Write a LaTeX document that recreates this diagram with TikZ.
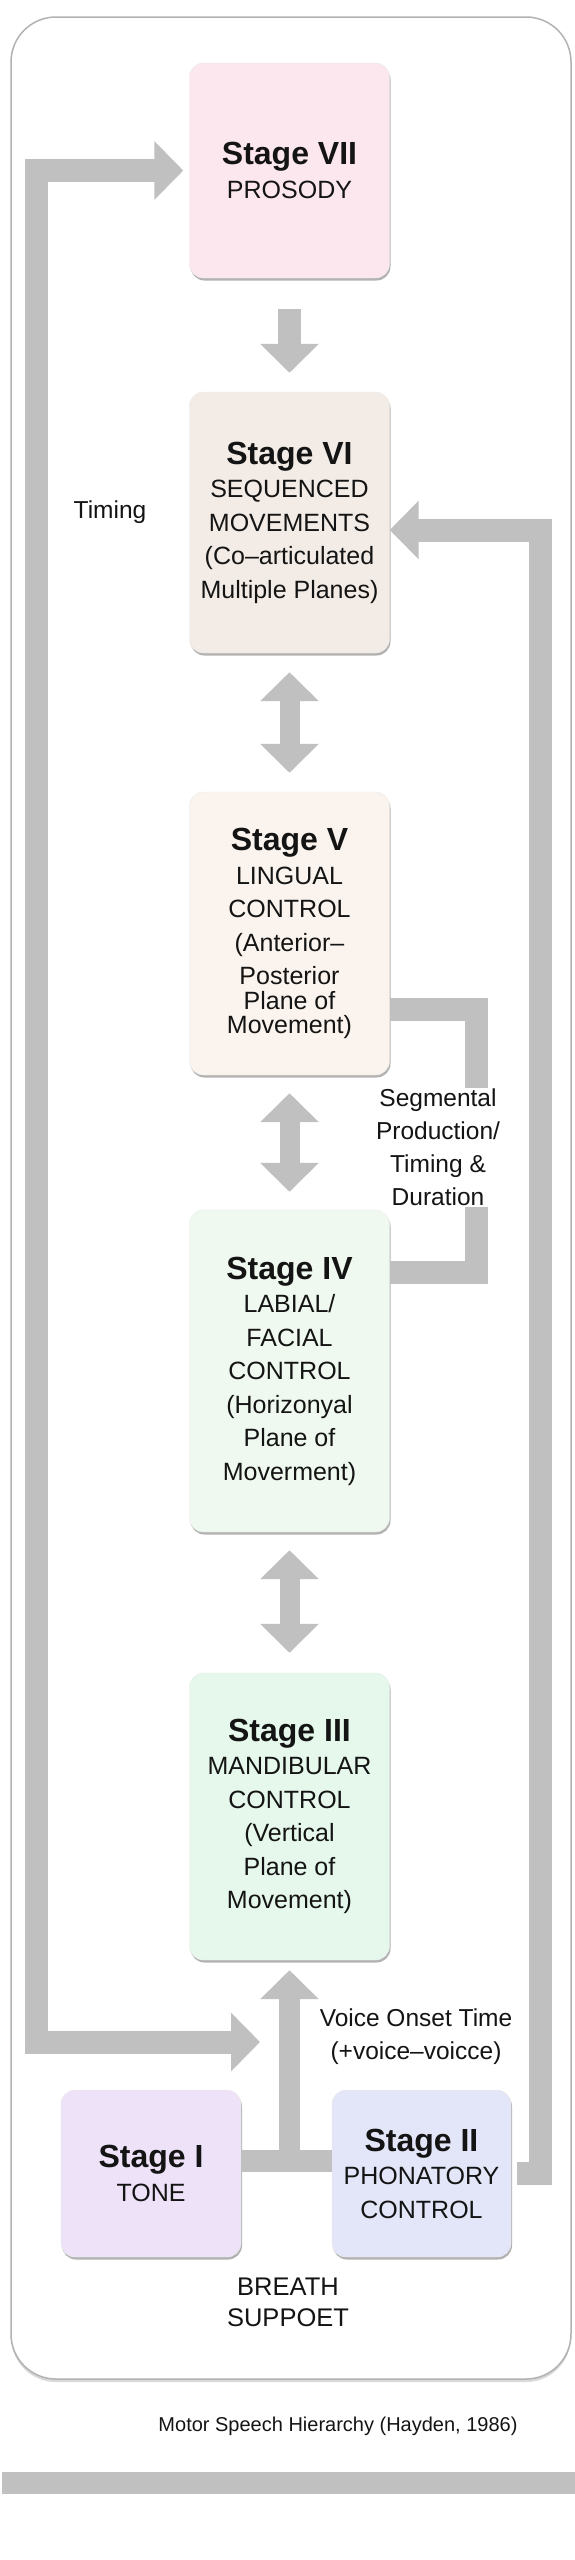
\documentclass[tikz,border=0pt]{standalone}
\usepackage{fontspec}
\setmainfont{Liberation Sans}
\definecolor{arrowGray}{RGB}{192,192,192}
\definecolor{frameGray}{RGB}{178,178,178}
\definecolor{prosodyPink}{RGB}{252,231,238}
\definecolor{sequenceSand}{RGB}{243,236,230}
\definecolor{lingualCream}{RGB}{251,244,238}
\definecolor{labialGreen}{RGB}{239,249,239}
\definecolor{mandibleMint}{RGB}{229,248,235}
\definecolor{toneLilac}{RGB}{237,226,247}
\definecolor{phonoBlue}{RGB}{227,230,248}
\usetikzlibrary{arrows.meta,shadows}
\newcommand{\stagetitle}[1]{{\bfseries\fontsize{32}{33.5}\selectfont #1}}

\begin{document}
\begin{tikzpicture}[x=1pt,y=-1pt,>={Triangle[length=29pt,width=57pt]},
  stagebox/.style={rectangle,rounded corners=14pt,draw=black!8,minimum width=200pt,align=center,
    text=black!92,font=\fontsize{25}{33.5}\selectfont,
    drop shadow={shadow xshift=1pt,shadow yshift=-2.5pt,opacity=0.55,fill=black!55}},
  flowarrow/.style={draw=arrowGray,line width=23pt,->},
  twoway/.style={draw=arrowGray,line width=20pt,<->},
  loopbar/.style={draw=arrowGray,line width=23pt},
  sidelabel/.style={font=\fontsize{24.5}{33}\selectfont,align=center,text=black!92}]
\useasboundingbox (0,0) rectangle (575,2560);

\node[draw=frameGray,line width=1.5pt,fill=white,rounded corners=45pt,minimum width=560pt,minimum height=2362pt,
  drop shadow={shadow xshift=0pt,shadow yshift=-3pt,opacity=0.25,fill=black!60}] (frame) at (291,1198) {};

\node[stagebox,fill=prosodyPink,minimum height=215pt] (vii) at (289.5,170.5) {\stagetitle{Stage VII}\\PROSODY};
\node[stagebox,fill=sequenceSand,minimum height=261pt] (vi) at (289.5,522.5) {\stagetitle{Stage VI}\\SEQUENCED\\MOVEMENTS\\(Co–articulated\\Multiple Planes)};
\node[stagebox,fill=lingualCream,minimum height=283pt] (v) at (289.5,933.5) {\stagetitle{Stage V}\\LINGUAL\\CONTROL\\(Anterior–\\Posterior\\[-9pt]Plane of\\[-9pt]Movement)};
\node[stagebox,fill=labialGreen,minimum height=322pt] (iv) at (289.5,1371) {\stagetitle{Stage IV}\\LABIAL/\\FACIAL\\CONTROL\\(Horizonyal\\Plane of\\Moverment)};
\node[stagebox,fill=mandibleMint,minimum height=287pt] (iii) at (289.5,1816.5) {\stagetitle{Stage III}\\MANDIBULAR\\CONTROL\\(Vertical\\Plane of\\Movement)};
\node[stagebox,fill=toneLilac,minimum width=180pt,minimum height=167pt] (i) at (151,2173.5) {\stagetitle{Stage I}\\TONE};
\node[stagebox,fill=phonoBlue,minimum width=179pt,minimum height=167pt] (ii) at (421.5,2173.5) {\stagetitle{Stage II}\\PHONATORY\\CONTROL};

\draw[flowarrow] ([yshift=-31pt]vii.south) -- ([yshift=19pt]vi.north);
\draw[twoway] ([yshift=-19pt]vi.south) -- ([yshift=19pt]v.north);
\draw[twoway] ([yshift=-18pt]v.south) -- ([yshift=18pt]iv.north);
\draw[twoway] ([yshift=-18pt]iv.south) -- ([yshift=20pt]iii.north);

\coordinate (join) at (289.5,2161);
\draw[loopbar,line width=22pt] (i.east |- join) -- (ii.west |- join);
\draw[flowarrow,line width=21pt] (join) -- ([yshift=-10pt]iii.south);

\coordinate (vot) at (260,2042);
\coordinate (lb) at (36,2042);
\coordinate (lt) at (36,170.5);
\draw[loopbar,<->] (vot) -- (lb) -- (lt) -- ([xshift=-6pt]vii.west);

\coordinate (rb) at (540,2173.5);
\coordinate (rt) at (540,530);
\draw[loopbar,->] ([xshift=6pt]ii.east) -- (rb) -- (rt) -- (vi.east |- rt);

\coordinate (st) at (476.5,1009);
\coordinate (sb) at (476.5,1272.5);
\draw[loopbar] (v.east |- st) -- (st) -- (sb) -- (iv.east |- sb);
\node[sidelabel,fill=white,inner sep=1pt] (seglabel) at (438,1147.5) {Segmental\\Production/\\Timing \&\\Duration};

\node[sidelabel] (timing) at (110,512) {Timing};
\node[sidelabel] (votlabel) at (416,2036.5) {Voice Onset Time\\(+voice–voicce)};
\node[sidelabel,font=\fontsize{25.5}{31}\selectfont] (breath) at (288,2302.5) {BREATH\\SUPPOET};
\node[font=\fontsize{20}{24}\selectfont,text=black!92] (caption) at (338,2426) {Motor Speech Hierarchy (Hayden, 1986)};

\fill[arrowGray] (2,2472) rectangle (575,2494);
\end{tikzpicture}
\end{document}
